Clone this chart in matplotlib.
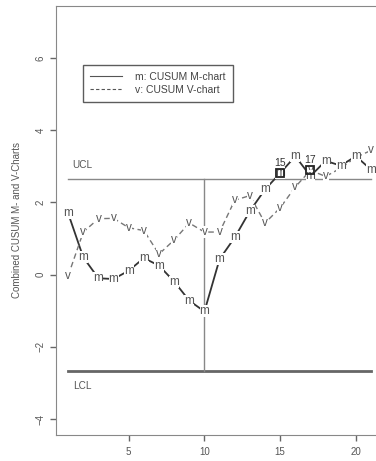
import matplotlib
matplotlib.use("Agg")
import matplotlib.pyplot as plt
import numpy as np

plt.rcParams["font.family"] = ["Liberation Sans", "DejaVu Sans"]

# --- data ---
obs = np.arange(1, 22)
m_chart = [1.70, 0.48, -0.10, -0.12, 0.11, 0.46, 0.25, -0.19, -0.72, -1.02,
           0.43, 1.03, 1.76, 2.36, 2.81, 3.28, 2.73, 3.15, 3.02, 3.28, 2.91]
v_chart = [-0.03, 1.18, 1.55, 1.56, 1.30, 1.22, 0.57, 0.96, 1.43, 1.18,
           1.18, 2.06, 2.19, 1.43, 1.85, 2.43, 2.89, 2.72, 2.95, 3.25, 3.44]
ucl = 2.65
lcl = -2.68
change_point = 10
signal_m = 15   # first M-chart signal
signal_v = 17   # first V-chart signal

grey = "#555555"

fig = plt.figure(figsize=(3.76, 4.61), dpi=100)
ax = fig.add_axes([0.149, 0.0564, 0.87, 0.9306])
ax.set_xlim(0.2, 21.8)
ax.set_ylim(-4.44, 7.44)

# control limits
ax.plot([obs[0], obs[-1]], [ucl, ucl], color="#888888", lw=1.0, zorder=1)
ax.plot([obs[0], obs[-1]], [lcl, lcl], color="#666666", lw=2.0, zorder=1)
ax.plot([change_point, change_point], [lcl, ucl], color="#888888", lw=1.0, zorder=1)
ax.text(1.3, ucl + 0.3, "UCL", fontsize=7.2, color=grey)
ax.text(1.3, lcl - 0.5, "LCL", fontsize=7.2, color=grey)

# series, type "b" look: line with letters on top
ax.plot(obs, m_chart, color="#333333", lw=1.3, zorder=2)
ax.plot(obs, v_chart, color="#777777", lw=1.0, ls=(0, (4, 2.5)), zorder=2)
for x, y in zip(obs, v_chart):
    ax.text(x, y, "v", ha="center", va="center", fontsize=8.5, color=grey,
            zorder=3, bbox=dict(boxstyle="square,pad=0.0", fc="white", ec="none"))
for x, y in zip(obs, m_chart):
    ax.text(x, y, "m", ha="center", va="center", fontsize=8.5, color=grey,
            zorder=4, bbox=dict(boxstyle="square,pad=0.0", fc="white", ec="none"))

# first signals
ax.plot([signal_m], [m_chart[signal_m - 1]], "s", mfc="none", mec="#222222",
        ms=5.5, mew=1.3, zorder=5)
ax.plot([signal_v], [v_chart[signal_v - 1]], "s", mfc="none", mec="#222222",
        ms=5.5, mew=1.3, zorder=5)
ax.annotate(str(signal_m), (signal_m, m_chart[signal_m - 1]), textcoords="offset points",
            xytext=(0, 5), ha="center", fontsize=7.5, color="#333333", zorder=6)
ax.annotate(str(signal_v), (signal_v, v_chart[signal_v - 1]), textcoords="offset points",
            xytext=(0, 5), ha="center", fontsize=7.5, color="#333333", zorder=6)

# legend
ax.plot([], [], color="#555555", lw=0.8, label="m: CUSUM M-chart")
ax.plot([], [], color="#555555", lw=0.8, ls=(0, (3, 2)), label="v: CUSUM V-chart")
handles, labels = ax.get_legend_handles_labels()
leg = ax.legend(handles[-2:], labels[-2:], loc="upper left",
                bbox_to_anchor=(0.083, 0.863), fontsize=7.5, frameon=True,
                fancybox=False, handlelength=3.0, borderpad=0.7, labelspacing=0.25,
                handletextpad=1.3, borderaxespad=0)
leg.get_frame().set_edgecolor("#333333")
leg.get_frame().set_linewidth(1.0)
for t in leg.get_texts():
    t.set_color("#444444")

# axes styling
ax.set_xticks([5, 10, 15, 20])
ax.set_yticks([-4, -2, 0, 2, 4, 6])
ax.tick_params(direction="out", length=4, width=1, colors="#666666",
               labelsize=7, labelcolor=grey)
ax.tick_params(axis="x", pad=5)
for lab in ax.get_yticklabels():
    lab.set_rotation(90)
    lab.set_va("center")
for s in ax.spines.values():
    s.set_color("#888888")
ax.set_ylabel("Combined CUSUM M- and V-Charts", fontsize=7, color=grey, labelpad=10)

fig.savefig("out.png", dpi=100)
